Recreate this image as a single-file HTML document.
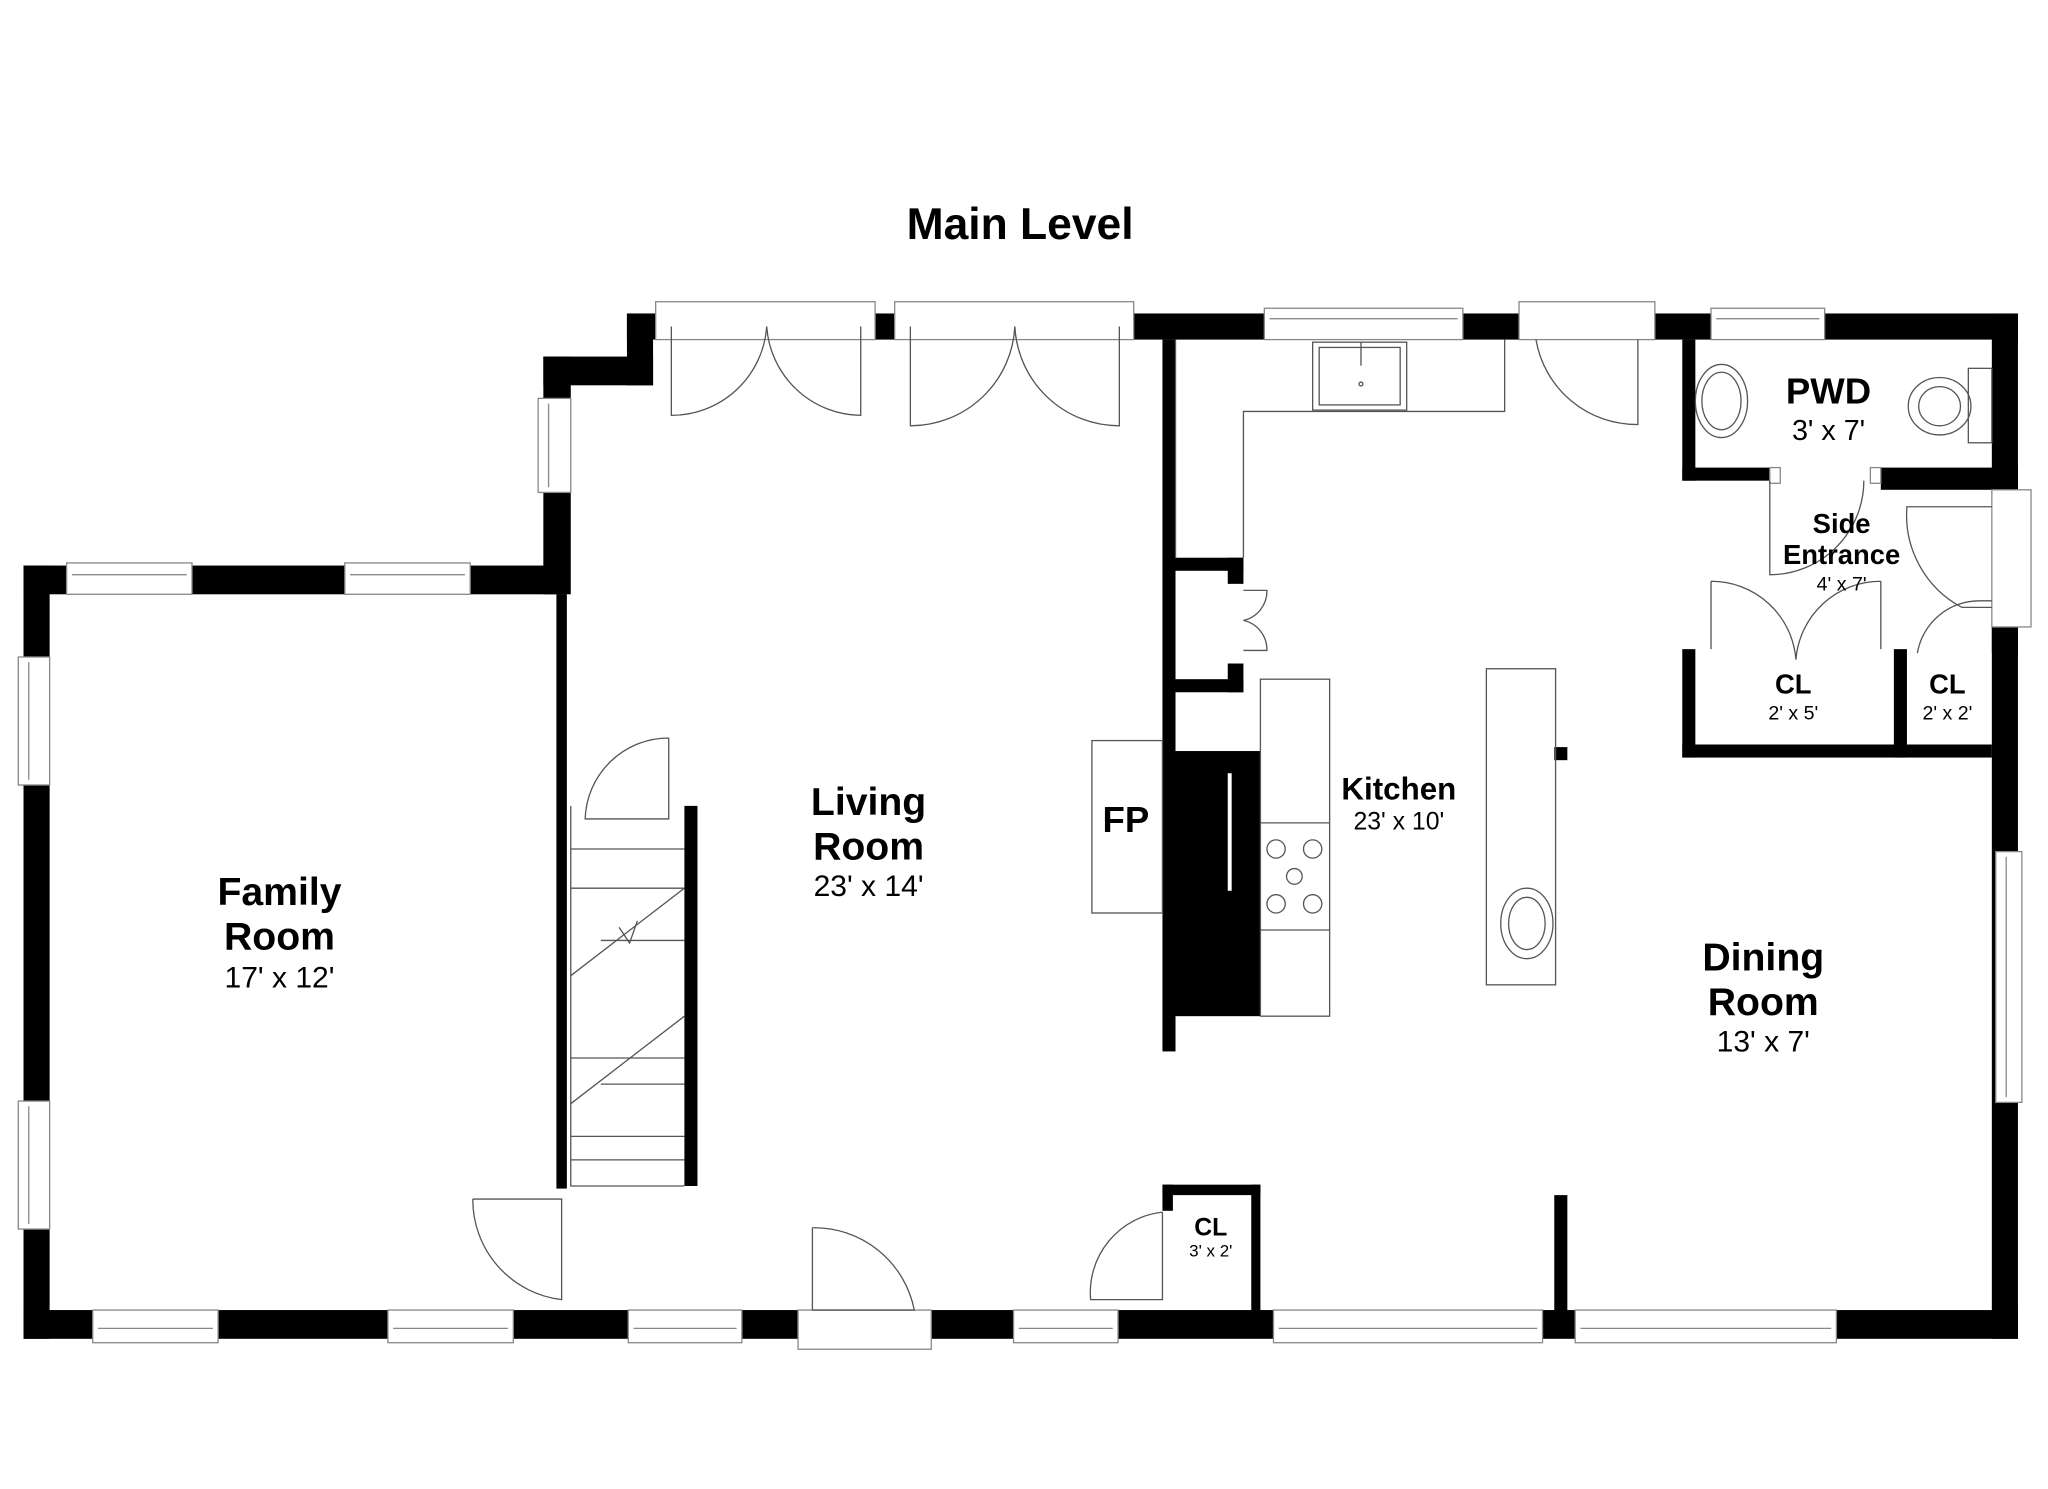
<!DOCTYPE html>
<html><head><meta charset="utf-8"><style>
html,body{margin:0;padding:0;background:#fff;width:2048px;height:1489px;overflow:hidden}
svg{display:block}
text{font-family:"Liberation Sans",Arial,sans-serif;fill:#000;text-anchor:middle}
.b{font-weight:bold}
</style></head><body>
<svg width="2048" height="1489" viewBox="0 0 1568 1140" preserveAspectRatio="none" xmlns="http://www.w3.org/2000/svg">
<rect width="1568" height="1140" fill="#fff"/>
<text x="781" y="183" class="b" font-size="34">Main Level</text>
<g fill="#000">
<!-- family room -->
<rect x="18" y="433" width="20" height="592"/>
<rect x="18" y="433" width="416" height="22"/>
<rect x="426" y="455" width="8" height="455"/>
<!-- living notch -->
<rect x="416" y="273" width="21" height="182"/>
<rect x="416" y="273" width="84" height="22"/>
<rect x="480" y="240" width="20" height="55"/>
<!-- top wall -->
<rect x="480" y="240" width="1065" height="20"/>
<rect x="1525" y="240" width="20" height="785"/>
<!-- bottom -->
<rect x="18" y="1003" width="1527" height="22"/>
<!-- kitchen left wall -->
<rect x="890" y="260" width="10" height="545"/>
<rect x="900" y="427" width="52" height="10"/>
<rect x="940" y="427" width="12" height="20"/>
<rect x="900" y="520" width="52" height="10"/>
<rect x="940" y="508" width="12" height="22"/>
<rect x="900" y="575" width="65" height="203"/>
<!-- PWD -->
<rect x="1288" y="260" width="10" height="108"/>
<rect x="1288" y="358" width="67" height="10"/>
<rect x="1440" y="358" width="105" height="17"/>
<!-- closets -->
<rect x="1288" y="497" width="10" height="83"/>
<rect x="1288" y="570" width="237" height="10"/>
<rect x="1450" y="497" width="10" height="83"/>
<rect x="1525" y="480" width="20" height="20"/>
<rect x="1190" y="572" width="10" height="10"/>
<!-- dining partial -->
<rect x="1190" y="915" width="10" height="90"/>
<!-- CL bottom -->
<rect x="890" y="907" width="75" height="8"/>
<rect x="958" y="907" width="7" height="98"/>
<rect x="890" y="907" width="8" height="20"/>
<!-- stair side wall -->
<rect x="524" y="617" width="10" height="291"/>
</g>
<!-- windows/doors openings on walls -->
<g fill="#fff" stroke="#888" stroke-width="1">
<rect x="51" y="431" width="96" height="24"/><line x1="55" y1="440" x2="143" y2="440"/>
<rect x="264" y="431" width="96" height="24"/><line x1="268" y1="440" x2="356" y2="440"/>
<rect x="14" y="503" width="24" height="98"/><line x1="22" y1="507" x2="22" y2="597"/>
<rect x="14" y="843" width="24" height="98"/><line x1="22" y1="847" x2="22" y2="937"/>
<rect x="412" y="305" width="25" height="72"/><line x1="420" y1="309" x2="420" y2="373"/>
<rect x="71" y="1003" width="96" height="25"/><line x1="75" y1="1017" x2="163" y2="1017"/>
<rect x="297" y="1003" width="96" height="25"/><line x1="301" y1="1017" x2="389" y2="1017"/>
<rect x="481" y="1003" width="87" height="25"/><line x1="485" y1="1017" x2="564" y2="1017"/>
<rect x="776" y="1003" width="80" height="25"/><line x1="780" y1="1017" x2="852" y2="1017"/>
<rect x="975" y="1003" width="206" height="25"/><line x1="979" y1="1017" x2="1177" y2="1017"/>
<rect x="1206" y="1003" width="200" height="25"/><line x1="1210" y1="1017" x2="1402" y2="1017"/>
<rect x="611" y="1003" width="102" height="30"/>
<rect x="502" y="231" width="168" height="29"/>
<rect x="685" y="231" width="183" height="29"/>
<rect x="968" y="236" width="152" height="24"/><line x1="972" y1="244" x2="1116" y2="244"/>
<rect x="1163" y="231" width="104" height="29"/>
<rect x="1310" y="236" width="87" height="24"/><line x1="1314" y1="244" x2="1393" y2="244"/>
<rect x="1525" y="375" width="30" height="105"/>
<rect x="1528" y="652" width="20" height="192"/><line x1="1536" y1="656" x2="1536" y2="840"/>
<rect x="1355" y="358" width="8" height="12"/><rect x="1432" y="358" width="8" height="12"/>
</g>
<!-- door swings -->
<g fill="none" stroke="#555" stroke-width="1">
<path d="M514 250 V318 A73 73 0 0 0 587 250"/>
<path d="M659 250 V318 A73 73 0 0 1 587 250"/>
<path d="M697 250 V326 A80 80 0 0 0 777 250"/>
<path d="M857 250 V326 A80 80 0 0 1 777 250"/>
<path d="M1254 260 V325 A78 78 0 0 1 1176 260"/>
<path d="M1355 368 V440 A72 72 0 0 0 1427 368"/>
<path d="M1525 465 H1502 A80 80 0 0 1 1460 388 H1525"/>
<path d="M1310 445 V497 M1310 445 A65 65 0 0 1 1375 505 M1440 445 V497 M1440 445 A65 65 0 0 0 1375 505"/>
<path d="M1525 460 H1516 A48 48 0 0 0 1468 500"/>
<path d="M952 452 H970 A23 23 0 0 1 952 475 A23 23 0 0 1 970 498 H952"/>
<path d="M512 565 V627 H448 A64 64 0 0 1 512 565"/>
<path d="M362 918 H430 V995 A77 77 0 0 1 362 918"/>
<path d="M622 940 V1003 H700 A78 78 0 0 0 622 940"/>
<path d="M890 928 V995 H835 A62 62 0 0 1 890 928"/>
<!-- kitchen counter -->
<path d="M900 260 V427 M952 427 V315 H1152 V260"/>
<rect x="1005" y="262" width="72" height="52"/><rect x="1010" y="266" width="62" height="44"/>
<line x1="1042" y1="262" x2="1042" y2="280"/><circle cx="1042" cy="294" r="1.5"/>
<rect x="965" y="520" width="53" height="258"/>
<line x1="965" y1="630" x2="1018" y2="630"/><line x1="965" y1="712" x2="1018" y2="712"/>
<circle cx="977" cy="650" r="7"/><circle cx="1005" cy="650" r="7"/><circle cx="991" cy="671" r="6"/><circle cx="977" cy="692" r="7"/><circle cx="1005" cy="692" r="7"/>
<rect x="1138" y="512" width="53" height="242"/>
<ellipse cx="1169" cy="707" rx="20" ry="27"/><ellipse cx="1169" cy="707" rx="14" ry="20"/>
<rect x="836" y="567" width="54" height="132"/>
<!-- PWD fixtures -->
<ellipse cx="1318" cy="307" rx="20" ry="28"/><ellipse cx="1318" cy="307" rx="15" ry="22"/>
<rect x="1507" y="282" width="18" height="57"/>
<ellipse cx="1485" cy="311" rx="24" ry="22"/><ellipse cx="1485" cy="311" rx="16" ry="15"/>
<!-- stairs -->
<path d="M437 617 V908 H524 M437 650 H524 M437 680 H524 M437 747 L524 680 M437 845 L524 778 M437 870 H524 M437 888 H524 M437 810 H524"/>
<path d="M460 720 H524 M474 710 L482 722 L488 705 M460 830 H524"/>
</g>
<rect x="940" y="592" width="3" height="90" fill="#fff"/>
<g>
<text x="214" y="693" class="b" font-size="30">Family</text>
<text x="214" y="727" class="b" font-size="30">Room</text>
<text x="214" y="756" font-size="23">17' x 12'</text>
<text x="665" y="624" class="b" font-size="30">Living</text>
<text x="665" y="658" class="b" font-size="30">Room</text>
<text x="665" y="686" font-size="23">23' x 14'</text>
<text x="862" y="637" class="b" font-size="28">FP</text>
<text x="1071" y="612" class="b" font-size="24">Kitchen</text>
<text x="1071" y="635" font-size="19">23' x 10'</text>
<text x="1350" y="743" class="b" font-size="30">Dining</text>
<text x="1350" y="777" class="b" font-size="30">Room</text>
<text x="1350" y="805" font-size="23">13' x 7'</text>
<text x="1400" y="309" class="b" font-size="28">PWD</text>
<text x="1400" y="337" font-size="22">3' x 7'</text>
<text x="1410" y="408" class="b" font-size="21">Side</text>
<text x="1410" y="432" class="b" font-size="21">Entrance</text>
<text x="1410" y="452" font-size="15">4' x 7'</text>
<text x="1373" y="531" class="b" font-size="21">CL</text>
<text x="1373" y="551" font-size="15">2' x 5'</text>
<text x="1491" y="531" class="b" font-size="21">CL</text>
<text x="1491" y="551" font-size="15">2' x 2'</text>
<text x="927" y="946" class="b" font-size="19">CL</text>
<text x="927" y="962" font-size="13">3' x 2'</text>
</g>
</svg>
</body></html>
